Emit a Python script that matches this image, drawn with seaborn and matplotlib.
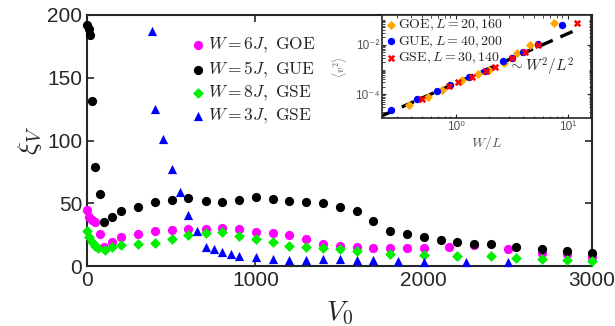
import numpy as np
import pandas as pd
import matplotlib
matplotlib.use("Agg")
import matplotlib.pyplot as plt
import seaborn as sns
from matplotlib.ticker import FixedLocator, LogLocator, NullFormatter, FixedFormatter

# ---------------- data: main panel ----------------
goe6_v0 = [0, 10, 28, 50, 80, 101, 151, 202, 304, 403, 502, 601, 704, 803, 902, 1004, 1103, 1202,
           1301, 1400, 1503, 1602, 1701, 1801, 1900, 2000, 2150, 2300, 2500, 2700, 2850, 3000]
goe6_xi = [44.6, 38.8, 36.7, 35.0, 25.5, 15.4, 19.4, 22.9, 25.5, 28.1, 28.7, 29.2, 29.7, 30.5, 29.2,
           27.3, 26.0, 25.0, 21.3, 17.5, 16.2, 14.9, 14.3, 14.3, 14.1, 14.1, 15.4, 16.7, 13.3, 10.6, 9.3, 7.4]

gue5_v0 = [0, 10, 16, 32, 50, 75, 101, 151, 202, 304, 403, 502, 601, 704, 803, 902, 1004, 1103, 1202,
           1301, 1400, 1503, 1602, 1701, 1801, 1900, 2000, 2100, 2200, 2300, 2400, 2550, 2700, 2850, 3000]
gue5_xi = [192, 188.6, 184, 131.7, 79, 57, 35, 39, 43.6, 47.3, 51.3, 52.3, 54, 52, 50.7, 52.6, 54.7, 53,
           51.8, 50.7, 50, 46.8, 43.6, 35.9, 28.2, 25.5, 23.1, 20.7, 18.9, 17.5, 17.5, 15.4, 13.8, 12.2, 10.6]

gse8_v0 = [0, 12, 28, 46, 66, 105, 151, 202, 304, 403, 502, 601, 704, 803, 902, 1004, 1103, 1202,
           1301, 1400, 1503, 1602, 1801, 2000, 2200, 2400, 2550, 2700, 2850, 3000]
gse8_xi = [28.1, 23.3, 19.4, 15.9, 14.1, 12.7, 14.9, 16.7, 17.5, 18.6, 21.3, 24.7, 26.0, 27.3, 24.1,
           21.8, 19.1, 16.2, 15.4, 14.6, 13.5, 12.2, 9.8, 8.8, 8.2, 8.0, 6.6, 5.3, 4.8, 4.0]

gse3_v0 = [389, 405, 452, 504, 551, 601, 651, 704, 754, 803, 853, 904, 1004, 1103, 1202, 1301, 1400,
           1503, 1602, 1701, 1850, 2000, 2250, 2500]
gse3_xi = [187.5, 125, 101.4, 77.5, 59.2, 40.6, 28.1, 15.4, 13.3, 10.9, 9.3, 8.0, 6.9, 5.6, 5.0, 4.5,
           5.3, 5.6, 5.0, 4.5, 4.0, 3.4, 3.4, 3.4]

main_labels = [r"$W = 6J,\ \mathrm{GOE}$", r"$W = 5J,\ \mathrm{GUE}$",
               r"$W = 8J,\ \mathrm{GSE}$", r"$W = 3J,\ \mathrm{GSE}$"]
xticks_main = [0, 1000, 2000, 3000]
yticks_main = [0, 50, 100, 150, 200]

# ---------------- data: inset ----------------
in_goe_x = [0.38, 0.57, 0.76, 1.15, 1.57, 2.0, 2.7, 3.5, 4.6, 7.5]
in_goe_y = [3.7e-5, 7.8e-5, 1.5e-4, 3.8e-4, 6.6e-4, 1.0e-3, 1.9e-3, 4.7e-3, 1.0e-2, 7.8e-2]
in_gue_x = [0.267, 0.45, 0.68, 0.90, 1.33, 1.82, 2.63, 3.2, 4.0, 5.4, 9.0]
in_gue_y = [2.3e-5, 6.4e-5, 1.36e-4, 2.4e-4, 5.0e-4, 8.8e-4, 2.2e-3, 2.9e-3, 5.1e-3, 1.1e-2, 6.5e-2]
in_gse_x = [0.50, 0.88, 1.06, 1.4, 1.85, 2.23, 3.17, 4.2, 5.5, 12.1]
in_gse_y = [6.4e-5, 2.2e-4, 3.2e-4, 5.0e-4, 8.8e-4, 1.3e-3, 2.9e-3, 5.1e-3, 1.0e-2, 7.8e-2]
inset_labels = [r"$\mathrm{GOE}, L = 20, 160$", r"$\mathrm{GUE}, L = 40, 200$",
                r"$\mathrm{GSE}, L = 30, 140$"]
fit_x = [0.22, 11.5]
fit_coef = 2.8e-4

# ---------------- style ----------------
sns.set_style("ticks")
plt.rcParams["font.family"] = ["Liberation Sans", "DejaVu Sans"]
plt.rcParams["mathtext.fontset"] = "cm"
plt.rcParams["xtick.direction"] = "in"
plt.rcParams["ytick.direction"] = "in"

fig = plt.figure(figsize=(6.15, 3.26), dpi=100)
ax = fig.add_axes([87 / 615, 60 / 326, 505 / 615, 251 / 326])

kw = dict(ax=ax, s=44, linewidth=0, clip_on=False, zorder=3)
sns.scatterplot(x=goe6_v0, y=goe6_xi, color="#ff00ff", marker="o", label=main_labels[0], **kw)
sns.scatterplot(x=gue5_v0, y=gue5_xi, color="black", marker="o", label=main_labels[1], **kw)
sns.scatterplot(x=gse8_v0, y=gse8_xi, color="#00ee00", marker="D", label=main_labels[2],
                ax=ax, s=30, linewidth=0, clip_on=False, zorder=3)
sns.scatterplot(x=gse3_v0, y=gse3_xi, color="#0000ff", marker="^", label=main_labels[3], **kw)

ax.set_xlim(0, 3000)
ax.set_ylim(0, 200)
ax.set_xticks(xticks_main)
ax.set_yticks(yticks_main)
for s in ax.spines.values():
    s.set_visible(True)
    s.set_color("#262626")
    s.set_linewidth(1.5)
ax.tick_params(axis="both", which="major", labelsize=15, length=5, width=1.2,
               top=True, right=True, colors="#262626", labelcolor="#262626")
ax.set_xlabel(r"$V_0$", fontsize=20, labelpad=7)
ax.set_ylabel(r"$\xi_V$", fontsize=20, labelpad=2)

leg = ax.legend(loc="upper left", bbox_to_anchor=(0.205, 0.915), frameon=False, fontsize=12.5,
                handletextpad=0.1, handlelength=0.9, borderpad=0, borderaxespad=0,
                labelspacing=0.25, markerscale=1.0)

# ---------------- inset ----------------
axi = fig.add_axes([382 / 615, 208 / 326, 209 / 615, 103 / 326])
axi.set_facecolor("white")
axi.set_zorder(5)
sns.scatterplot(x=in_goe_x, y=in_goe_y, ax=axi, color="#ffa500", marker="D", s=22, linewidth=0,
                label=inset_labels[0], zorder=3)
sns.scatterplot(x=in_gue_x, y=in_gue_y, ax=axi, color="#0000ff", marker="o", s=28, linewidth=0,
                label=inset_labels[1], zorder=3)
sns.scatterplot(x=in_gse_x, y=in_gse_y, ax=axi, color="#ff0000", marker="X", s=28, linewidth=0,
                label=inset_labels[2], zorder=4)
fx = np.array(fit_x)
axi.plot(fx, fit_coef * fx ** 2, color="black", linestyle=(0, (4, 2.5)), linewidth=2.4, zorder=2)
axi.set_xscale("log")
axi.set_yscale("log")
axi.set_xlim(0.22, 16.2)
axi.set_ylim(1.1e-5, 0.16)
axi.xaxis.set_major_locator(FixedLocator([1, 10]))
axi.xaxis.set_major_formatter(FixedFormatter(["10\u2070", "10\u00b9"]))
axi.yaxis.set_major_locator(FixedLocator([1e-4, 1e-2]))
axi.yaxis.set_major_formatter(FixedFormatter(["10\u207b\u2074", "10\u207b\u00b2"]))
axi.xaxis.set_minor_locator(LogLocator(base=10, subs=np.arange(2, 10)))
axi.yaxis.set_minor_locator(LogLocator(base=10, subs=np.arange(1, 10), numticks=20))
axi.xaxis.set_minor_formatter(NullFormatter())
axi.yaxis.set_minor_formatter(NullFormatter())
for s in axi.spines.values():
    s.set_visible(True)
    s.set_color("#262626")
    s.set_linewidth(1.2)
axi.tick_params(axis="both", which="major", labelsize=8.5, length=3, width=0.8, top=True,
                right=True, colors="#262626", labelcolor="#555555", pad=2)
axi.tick_params(axis="both", which="minor", length=1.8, width=0.6, top=True, right=True)
axi.set_xlabel(r"$W/L$", fontsize=10, color="#555555", labelpad=1)
axi.set_ylabel(r"$\langle v^2\rangle$", fontsize=8, color="#555555")
axi.yaxis.set_label_coords(-0.16, 0.5)
axi.text(0.605, 0.5, r"$\sim W^2/L^2$", transform=axi.transAxes, fontsize=11, va="center",
         ha="left", color="#262626")
axi.legend(loc="upper left", bbox_to_anchor=(0.0, 1.0), frameon=False, fontsize=10,
           handletextpad=0.05, handlelength=0.9, borderpad=0.1, borderaxespad=0.1,
           labelspacing=0.05)

fig.savefig("out.png", dpi=100)
